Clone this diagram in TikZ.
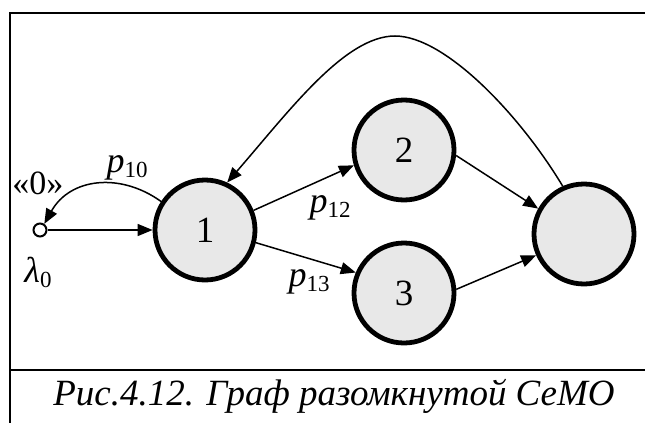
\documentclass[tikz,border=0pt]{standalone}
\usepackage{fontspec}
\setmainfont{Liberation Serif}
\usetikzlibrary{arrows.meta}
\begin{document}
\begin{tikzpicture}[x=1pt,y=-1pt]
\useasboundingbox (0,0) rectangle (645,423);
\tikzset{
  state/.style={circle, draw, line width=4.8pt, fill=gray!18, minimum size=100pt, inner sep=0pt, font=\fontsize{37}{37}\selectfont},
  conn/.style={line width=1.5pt, -{Triangle[length=15pt,width=12pt]}},
  lbl/.style={inner sep=0pt, font=\fontsize{36}{36}\selectfont},
  framel/.style={line width=1.8pt},
}
\newcommand{\sbs}[1]{{\fontsize{23}{23}\selectfont\raisebox{-5pt}{#1}}}
% frame
\draw[framel] (645,13) -- (10,13) -- (10,423);
\draw[framel] (10,370) -- (645,370);
% nodes
\node[state] (n1) at (205,230) {1};
\node[state] (n2) at (404,150) {2};
\node[state] (n3) at (404,293) {3};
\node[state] (n4) at (584,234) {};
\node[circle, draw, line width=2pt, fill=white, minimum size=13pt, inner sep=0pt] (n0) at (40,230) {};
% connectors
\draw[conn] (n0) -- (n1);
\draw[conn] (n1.22) -- (n2.197);
\draw[conn] (n1.-14) -- (n3.157);
\draw[conn] (n2.-6) -- (n4.151);
\draw[conn] (n3.4) -- (n4.204);
\draw[conn] (n4.114) .. controls (520,115) and (445,36) .. (395,36)
  .. controls (345,36) and (290,110) .. (n1.65);
\draw[conn] (n1.147) .. controls (120,172) and (70,178) .. (n0.55);
% labels
\node[lbl, font=\fontsize{34}{34}\selectfont] (l0) at (38,183) {«0»};
\node[lbl] (p10) at (127,168) {\textit{p}\sbs{10}};
\node[lbl] (lam) at (38,272) {\textit{λ}\sbs{0}};
\node[lbl] (p12) at (330,208) {\textit{p}\sbs{12}};
\node[lbl] (p13) at (309,282) {\textit{p}\sbs{13}};
\node[inner sep=0pt, anchor=base, font=\fontsize{37}{37}\selectfont\itshape] (cap) at (334,405) {Рис.4.12. Граф разомкнутой СеМО};
\end{tikzpicture}
\end{document}
